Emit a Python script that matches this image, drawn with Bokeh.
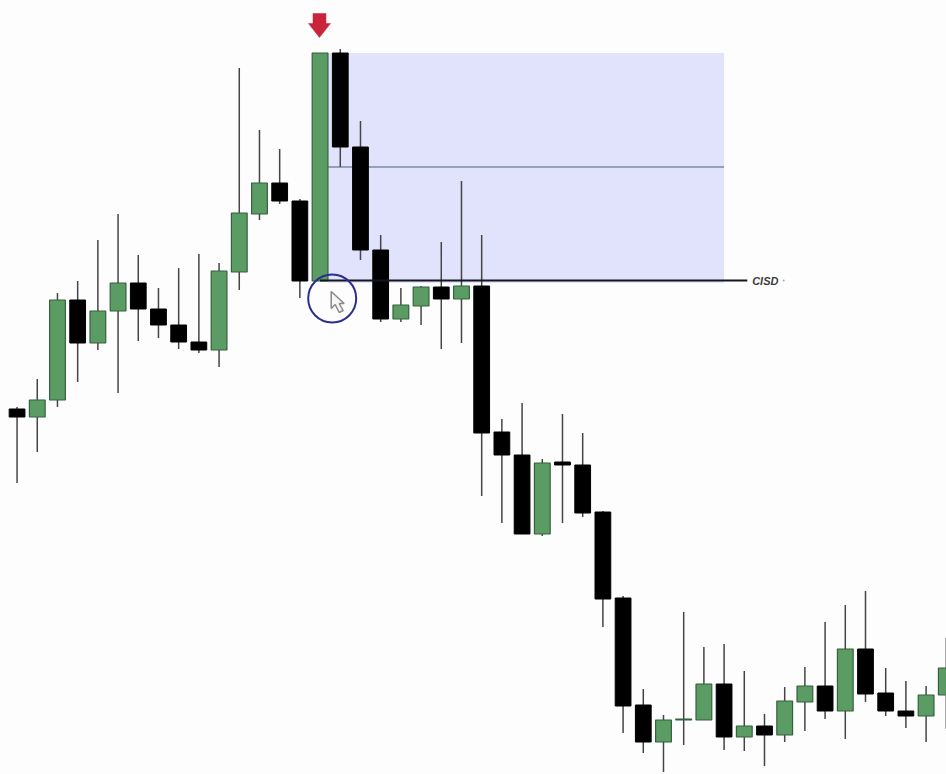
from bokeh.embed import file_html
from bokeh.resources import INLINE
from bokeh.models import ColumnDataSource, Range1d
from bokeh.plotting import figure
from bokeh.core.properties import value

# Candles (chart units: price rises upward)
index = list(range(47))
highs = [367,395,481,493,534,560,519,486,506,520,511,706,644,625,575,721,725,653,539,486,488,532,593,539,355,371,315,360,341,263,178,85,59,162,127,130,103,60,87,107,152,169,183,106,93,88,136]
opens = [365,357,374,474,431,463,491,465,449,432,424,502,560,591,573,493,721,627,524,455,468,487,475,488,342,319,240,312,309,262,176,69,32,54,54,90,37,48,39,72,88,63,125,81,63,58,79]
closes = [357,374,474,431,463,491,465,449,432,424,503,561,591,573,493,721,627,524,455,469,487,475,488,341,319,240,311,309,261,175,68,32,54,55,90,37,48,39,73,88,63,125,80,63,58,79,106]
lows = [291,322,367,392,424,381,433,436,425,421,407,484,554,570,476,493,607,514,452,452,449,425,431,278,251,240,238,251,257,147,41,21,2,29,54,24,23,8,32,43,55,35,72,58,46,32,45]

UP_COLOR = "#5a9c63"
UP_LINE = "#35613f"
DOWN_COLOR = "#000000"
WICK = "#454545"

# FVG / CISD zone levels
zone_left, zone_right = 15.4, 35.0
zone_top, zone_mid, zone_bottom = 721, 607, 491
cisd_level, cisd_start, cisd_end = 493.5, 15, 36.15
cisd_label = "CISD"

x_start, x_end = -0.82, 46.01
y_start, y_end = -0.5, 773.5
PX = (x_end - x_start) / 946     # data per horizontal pixel

p = figure(width=946, height=774, output_backend="svg", toolbar_location=None,
           x_range=Range1d(x_start, x_end), y_range=Range1d(y_start, y_end),
           min_border=0, min_border_left=0, min_border_right=0,
           min_border_top=0, min_border_bottom=0,
           background_fill_color="#fdfdfd", border_fill_color="#ffffff",
           outline_line_color=None,
           styles={"position": "absolute", "left": "0px", "top": "0px"})
p.axis.visible = False
p.grid.visible = False

# zone
p.quad(left=[zone_left], right=[zone_right], top=[zone_top], bottom=[zone_bottom],
       fill_color="#e1e2fb", line_color=None)
p.segment(x0=[zone_left], x1=[zone_right], y0=[zone_mid], y1=[zone_mid],
          line_color="#7a8ba8", line_width=1.5)

# wicks
p.segment(x0=index, x1=index, y0=lows, y1=highs, line_color=WICK, line_width=1.5)

# bodies
up = [i for i in index if closes[i] > opens[i]]
dn = [i for i in index if closes[i] <= opens[i]]
up_src = ColumnDataSource(dict(x=up, b=[opens[i] for i in up], t=[closes[i] for i in up]))
dn_src = ColumnDataSource(dict(x=dn, t=[opens[i] for i in dn], b=[closes[i] for i in dn]))
BODY = 0.78
p.vbar(x="x", width=BODY, bottom="b", top="t", source=up_src,
       fill_color=UP_COLOR, line_color=UP_LINE, line_width=1.2)
p.vbar(x="x", width=BODY, bottom="b", top="t", source=dn_src,
       fill_color=DOWN_COLOR, line_color=DOWN_COLOR, line_width=1)

# CISD line and label
p.segment(x0=[cisd_start], x1=[cisd_end], y0=[cisd_level], y1=[cisd_level],
          line_color="#15151f", line_width=2)
p.text(x=[cisd_end + 0.24], y=[cisd_level], text=[cisd_label], text_font=value("Liberation Sans"),
       text_font_style="bold italic", text_font_size="11px", text_color="#3d3d3d",
       text_align="left", text_baseline="middle")
p.scatter(x=[cisd_end + 1.8], y=[cisd_level], size=2, marker="circle",
          fill_color="#a8a8a8", line_color=None)

# red arrow above the big green candle (offsets around candle 15)
ax = 14.97
ay = 760.5
arrow_dx = [-6.5, 6.5, 6.5, 11, 0, -11, -6.5]
arrow_dy = [0, 0, -10, -10, -24, -10, -10]
p.patch(x=[ax + d * PX for d in arrow_dx], y=[ay + d for d in arrow_dy],
        fill_color="#c8243c", line_color="#c8243c", line_width=0.5)

# marked circle around the candle's base, with mouse pointer inside
cx, cy, r_px = 15.6, 475.5, 24
p.circle(x=[cx], y=[cy], radius=r_px * PX, fill_color=None,
         line_color="#2b2d8f", line_width=2)
cur_x = 15.55
cur_y = 482.5
cur_dx = [0, 0, 4, 8, 12, 8, 13]
cur_dy = [0, -17, -13, -21, -19, -12, -12]
p.patch(x=[cur_x + d * PX for d in cur_dx], y=[cur_y + d for d in cur_dy],
        fill_color="#f6f6f6", line_color="#8a8a8a", line_width=1.5)

open("out.html", "w").write(file_html(p, INLINE))
